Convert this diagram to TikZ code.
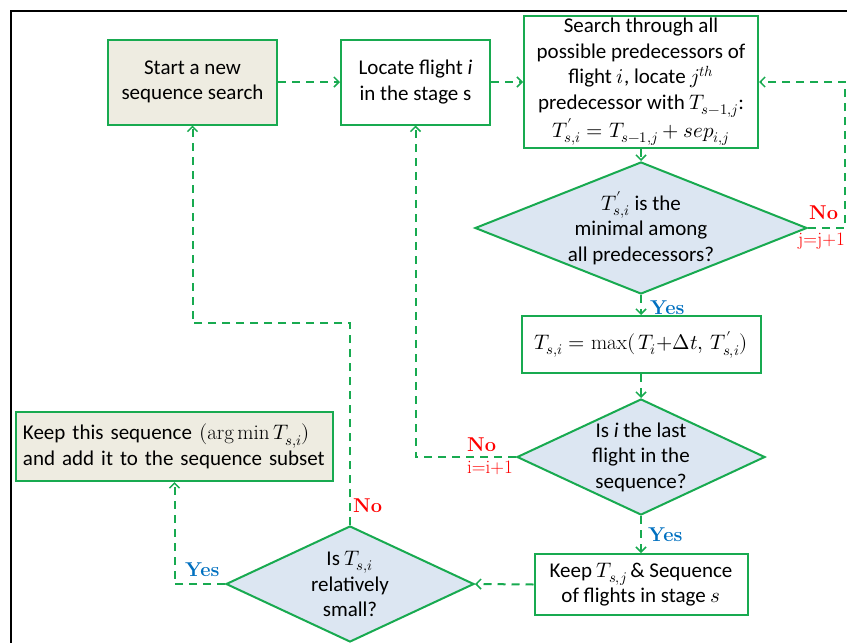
\documentclass[tikz,border=0pt]{standalone}
\usepackage{fontspec}
\usepackage{unicode-math}
\setmathfont{Latin Modern Math}
\newfontfamily\calfont{Carlito}
\usetikzlibrary{shapes.geometric,arrows.meta}
\definecolor{gr}{RGB}{24,170,80}
\definecolor{dfill}{RGB}{220,230,242}
\definecolor{bfill}{RGB}{238,236,225}
\definecolor{lblue}{RGB}{0,112,192}
\definecolor{lred}{RGB}{255,0,0}
\begin{document}
\begin{tikzpicture}[x=1pt,y=-1pt,
  txtfont/.style={font=\calfont\fontsize{21}{25.5}\selectfont},
  box/.style={draw=gr, line width=2pt, fill=white, inner sep=0pt, align=center, txtfont},
  dia/.style={draw=gr, line width=2pt, fill=dfill, shape=diamond, inner sep=0pt},
  diatxt/.style={align=center, txtfont, inner sep=0pt},
  conn/.style={draw=gr, line width=2pt, dash pattern=on 8pt off 6pt, -{Straight Barb[length=5pt,width=10pt,line width=1.5pt]}},
  nolbl/.style={text=lred, font=\fontsize{20}{24}\selectfont\bfseries, inner sep=0pt},
  yeslbl/.style={text=lblue, font=\fontsize{20}{24}\selectfont\bfseries, inner sep=0pt},
  inclbl/.style={text=lred, font=\fontsize{19}{22}\selectfont, inner sep=0pt}
]
\useasboundingbox (0,0) rectangle (847,643);
\fill[white] (0,0) rectangle (847,643);
\draw[line width=2.5pt] (11,643) -- (11,11) -- (847,11);

% boxes
\node[box, fill=bfill, minimum width=169pt, minimum height=85pt] (b1) at (192.5,82) {Start a new\\sequence search};
\node[box, minimum width=149pt, minimum height=85pt] (b2) at (415.5,82) {Locate flight \textit{i}\\in the stage s};
\node[box, minimum width=234pt, minimum height=132pt] (b3) at (641,82) {Search through all\\possible predecessors of\\flight $i$, locate $j^{th}$\\predecessor with $T_{s-1,j}$:\\$T'_{s,i}=T_{s-1,j}+sep_{i,j}$};
\node[dia, minimum width=332pt, minimum height=132pt] (d1) at (641,228) {};
\node[diatxt] (d1t) at (d1) {$T'_{s,i}$ is the\\minimal among\\all predecessors?};
\node[box, minimum width=239pt, minimum height=57pt] (b4) at (641,344.5) {$T_{s,i}=\max(\,T_i{+}\Delta t,\,T'_{s,i})$};
\node[dia, minimum width=248pt, minimum height=116pt] (d2) at (641,457) {};
\node[diatxt] (d2t) at (d2) {Is \textit{i} the last\\flight in the\\sequence?};
\node[box, minimum width=213pt, minimum height=61pt] (b5) at (641,584.5) {Keep $T_{s,j}$\,\& Sequence\\of flights in stage $s$};
\node[dia, minimum width=248pt, minimum height=116pt] (d3) at (350,584) {};
\node[diatxt] (d3t) at (d3) {Is $T_{s,i}$\\relatively\\small?};
\node[box, fill=bfill, minimum width=317pt, minimum height=69pt, align=left, text width=303pt] (b6) at (174.5,446.5) {Keep this sequence $(\arg\min T_{s,i})$\\and add it to the sequence subset};

% waypoints
\coordinate (r1) at (845,228);
\coordinate (k1) at (350,323);

% connectors
\draw[conn] (b1) -- (b2);
\draw[conn] (b2) -- (b3);
\draw[conn] (b3) -- (d1);
\draw[conn] (d1.east) -- (r1) |- (b3.east);
\draw[conn] (d1) -- (b4);
\draw[conn] (b4) -- (d2);
\draw[conn] (d2.west) -| (b2.south);
\draw[conn] (d2) -- (b5);
\draw[conn] (b5.west) -- (d3.east);
\draw[conn] (d3.north) -- (k1) -| (b1.south);
\draw[conn] (d3.west) -| (b6.south);

% labels
\node[nolbl, anchor=south west] (n1) at (809,220) {No};
\node[inclbl, anchor=north east] (i1) at (845,233) {j=j+1};
\node[yeslbl, anchor=west] (y1) at (650,308) {Yes};
\node[nolbl, anchor=south west] (n2) at (467,452) {No};
\node[inclbl, anchor=north west] (i2) at (467,461) {i=i+1};
\node[yeslbl, anchor=west] (y2) at (648,535) {Yes};
\node[nolbl, anchor=west] (n3) at (353,506) {No};
\node[yeslbl, anchor=west] (y3) at (185,570) {Yes};
\end{tikzpicture}
\end{document}
